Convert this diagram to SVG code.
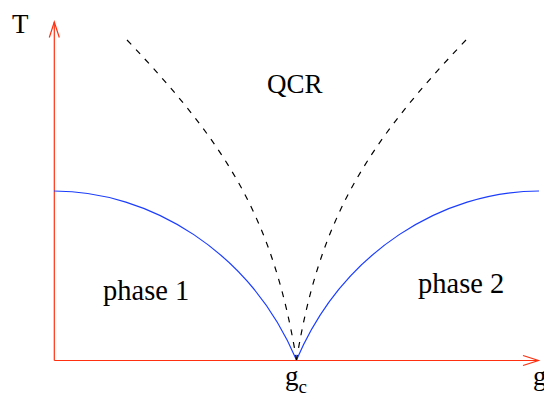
<svg xmlns="http://www.w3.org/2000/svg" width="544" height="397" viewBox="0 0 544 397">
<style>
.axis{fill:none;stroke:#ff3010;stroke-width:1.2}
.phase{fill:none;stroke:#1a3cff;stroke-width:1.2}
.xover{fill:none;stroke:#000;stroke-width:1.2;stroke-dasharray:6 7}
text{font-family:"Liberation Serif","Times New Roman",serif;font-size:27px;fill:#000}
.big{font-size:28.5px}
</style>
<rect width="544" height="397" fill="#fff"/>
<g id="axes">
<path class="axis" d="M54.3,360.5 H538.5"/>
<path class="axis" d="M54.3,360.5 V22"/>
<path class="axis" d="M49.3,37.5 L54.3,22 L59.3,37.5"/>
<path class="axis" d="M523,355.5 L538.5,360.5 L523,365.5"/>
</g>
<g id="connectors">
<path class="phase" d="M54,191 C150,191 250,251 296.5,360"/>
<path class="phase" d="M539,191 C443,191 343,251 296.5,360"/>
<path class="xover" d="M127,40 C227,145 273.5,219 296.5,360"/>
<path class="xover" d="M466,40 C366,145 319.5,219 296.5,360"/>
</g>
<g id="labels">
<text x="12" y="33">T</text>
<text x="267" y="93">QCR</text>
<text class="big" x="103" y="300">phase 1</text>
<text class="big" x="418" y="293">phase 2</text>
<text x="285" y="385">g<tspan font-size="19" dy="8">c</tspan></text>
<text x="533" y="385">g</text>
</g>
</svg>
